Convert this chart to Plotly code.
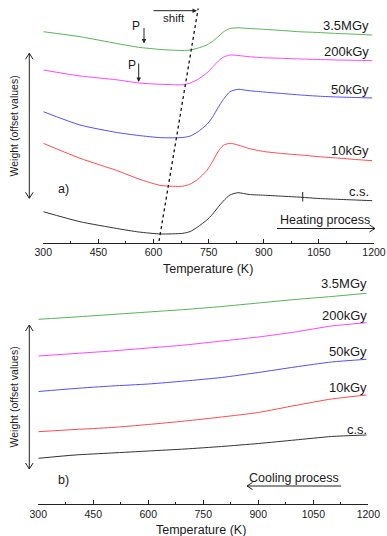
import plotly.graph_objects as go

W, H = 387, 536

# ---------------- data (arbitrary offset units) ----------------
temps_heat = [300, 400, 500, 560, 620, 680, 700, 720, 745, 760, 775, 790, 808, 830, 860, 900, 950, 1000, 1050, 1100, 1150, 1195]
heat_35MGy = [210.8, 205.8, 199.0, 195.2, 193.0, 192.0, 192.5, 194.3, 197.5, 201.0, 205.5, 210.5, 214.0, 214.7, 214.0, 213.2, 212.0, 210.7, 210.0, 209.0, 208.3, 207.5]
heat_200kGy = [172.5, 166.5, 162.7, 159.5, 158.2, 157.8, 159.5, 163.0, 169.5, 175.0, 181.0, 185.3, 187.5, 187.0, 185.8, 184.8, 184.2, 183.5, 183.0, 182.5, 182.2, 181.8]
heat_50kGy = [130.8, 117.5, 110.0, 107.0, 104.8, 105.0, 106.5, 110.5, 118.0, 125.0, 134.5, 143.0, 150.8, 153.2, 151.8, 150.5, 149.0, 147.5, 146.3, 145.5, 145.0, 144.5]
heat_10kGy = [99.2, 84.2, 72.0, 63.5, 57.0, 56.3, 58.5, 63.0, 72.0, 80.5, 90.5, 97.2, 99.2, 97.5, 94.0, 91.0, 89.0, 87.5, 85.8, 84.5, 83.0, 81.8]
heat_cs = [30.8, 20.8, 14.0, 10.5, 8.5, 9.2, 11.0, 15.5, 22.5, 28.0, 35.0, 41.5, 47.5, 49.8, 48.0, 47.3, 46.3, 45.3, 44.0, 43.2, 42.5, 41.8]

temps_cool = [300, 400, 500, 600, 700, 800, 900, 1000, 1100, 1195]
cool_35MGy = [184.7, 187.0, 189.5, 192.0, 194.5, 197.5, 201.0, 204.5, 207.5, 210.7]
cool_200kGy = [148.0, 150.5, 153.0, 156.0, 159.0, 163.0, 167.0, 172.0, 178.0, 181.3]
cool_50kGy = [112.5, 115.5, 118.0, 120.0, 123.0, 126.5, 131.5, 137.0, 142.0, 144.7]
cool_10kGy = [72.3, 74.5, 76.5, 79.5, 83.0, 87.0, 91.5, 98.5, 105.0, 109.0]
cool_cs = [45.7, 49.0, 51.0, 53.0, 55.0, 57.5, 60.5, 64.0, 67.5, 69.0]

# dashed "shift" guide line through the minima (temperature, offset value)
shift_T = [615, 721.5]
shift_v = [1.5, 234.0]

series_labels = ["3.5MGy", "200kGy", "50kGy", "10kGy", "c.s."]
series_colors = ["#55b455", "#ff44ff", "#4f4fff", "#ff4b4b", "#333333"]
tick_vals = [300, 450, 600, 750, 900, 1050, 1200]
# ----------------------------------------------------------------------------------------

def px(x):
    return x / W

def py(y):
    return 1 - y / H

FONT = "Liberation Sans, Arial, sans-serif"
TXT = "#1a1a1a"

fig = go.Figure()

heat = [heat_35MGy, heat_200kGy, heat_50kGy, heat_10kGy, heat_cs]
cool = [cool_35MGy, cool_200kGy, cool_50kGy, cool_10kGy, cool_cs]

for vals, col in zip(heat, series_colors):
    fig.add_trace(go.Scatter(x=temps_heat, y=vals, mode="lines", xaxis="x", yaxis="y",
                             line=dict(color=col, width=1, shape="spline", smoothing=0.6),
                             showlegend=False, hoverinfo="skip"))
for vals, col in zip(cool, series_colors):
    fig.add_trace(go.Scatter(x=temps_cool, y=vals, mode="lines", xaxis="x2", yaxis="y2",
                             line=dict(color=col, width=1, shape="spline", smoothing=0.6),
                             showlegend=False, hoverinfo="skip"))

fig.add_trace(go.Scatter(x=shift_T, y=shift_v, mode="lines", xaxis="x", yaxis="y",
                         line=dict(color="#111111", width=1.3, dash="3px,3px"),
                         showlegend=False, hoverinfo="skip"))

axis_common = dict(
    range=[300, 1200], showgrid=False, zeroline=False, showline=True, automargin=False,
    linecolor="#222222", linewidth=1, ticks="inside", ticklen=4, tickwidth=1,
    tickcolor="#222222", tickvals=tick_vals,
    tickfont=dict(family=FONT, size=10.5, color=TXT),
    minor=dict(ticks="inside", ticklen=2, tickwidth=1, tickcolor="#222222", dtick=75, tick0=300),
)

fig.update_layout(
    template="none",
    width=W, height=H, autosize=False,
    margin=dict(l=0, r=0, t=0, b=0, pad=0, autoexpand=False),
    paper_bgcolor="white", plot_bgcolor="white",
    xaxis=dict(domain=[px(43.3), px(374)], anchor="y", **axis_common),
    yaxis=dict(domain=[py(242.5), py(4)], range=[0, 238.5], visible=False, fixedrange=True, automargin=False),
    xaxis2=dict(domain=[px(38.3), px(368.3)], anchor="y2", **axis_common),
    yaxis2=dict(domain=[py(504), py(264)], range=[0, 240], visible=False, fixedrange=True, automargin=False),
    showlegend=False,
)

ann = []

def text(x, y, s, size=12.5, xanchor="center", angle=0):
    ann.append(dict(x=px(x), y=py(y), xref="paper", yref="paper", text=s, showarrow=False,
                    xanchor=xanchor, yanchor="middle", textangle=angle,
                    font=dict(family=FONT, size=size, color=TXT)))

# series labels
for lab, yy in zip(series_labels, [25, 52, 89.5, 150, 192]):
    text(371, yy, lab, size=13, xanchor="right")
for lab, yy in zip(series_labels, [283, 315, 351.5, 387, 429]):
    text(369, yy, lab, size=13, xanchor="right")

# axis titles
text(208, 269, "Temperature (K)", size=12.5)
text(201, 529.5, "Temperature (K)", size=12.5)
text(13.5, 126, "Weight (offset values)", size=10.5, angle=-90)
text(13.5, 397, "Weight (offset values)", size=10.5, angle=-90)

# panel tags and process labels
text(63.5, 188.5, "a)", size=12.5)
text(63.5, 479.5, "b)", size=12.5)
text(325, 220, "Heating process", size=12.5)
text(293.5, 477.5, "Cooling process", size=12.5)
text(173.5, 18.5, "shift", size=11.5)
text(136, 26.5, "P", size=12)
text(131.5, 65, "P", size=12)

# small filled-head arrows (shift, P markers)
def arrow(x_tip, y_tip, ax, ay):
    ann.append(dict(x=px(x_tip), y=py(y_tip), xref="paper", yref="paper", text="",
                    showarrow=True, arrowhead=2, arrowsize=0.9, arrowwidth=1,
                    arrowcolor="#222222", ax=ax, ay=ay, axref="pixel", ayref="pixel"))

arrow(197, 10.7, -45, 0)
arrow(144, 43.5, 0, -17)
arrow(138.7, 82, 0, -20)

fig.update_layout(annotations=ann)

# lines + open chevrons drawn as shapes
shapes = []

def seg(x0, y0, x1, y1, w=1):
    shapes.append(dict(type="line", xref="paper", yref="paper",
                       x0=px(x0), y0=py(y0), x1=px(x1), y1=py(y1),
                       line=dict(color="#222222", width=w)))

def chevron(pts):
    path = "M " + " L ".join(f"{px(a):.5f},{py(b):.5f}" for a, b in pts)
    shapes.append(dict(type="path", xref="paper", yref="paper", path=path,
                       line=dict(color="#222222", width=1)))

# weight arrows (double-headed)
for top, bot in [(53.3, 198.3), (325, 469)]:
    seg(29.3, top, 29.3, bot)
    chevron([(25.5, top + 6), (29.3, top), (33.1, top + 6)])
    chevron([(25.5, bot - 6), (29.3, bot), (33.1, bot - 6)])

# heating arrow (points right)
seg(277, 228.5, 375, 228.5)
chevron([(369.5, 225), (375, 228.5), (369.5, 232)])
# cooling arrow (points left)
seg(247, 486, 341, 486)
chevron([(252.5, 482.5), (247, 486), (252.5, 489.5)])

# small vertical mark on the c.s. heating curve
shapes.append(dict(type="line", xref="x", yref="y", x0=1006, x1=1006, y0=41.0, y1=50.5,
                   line=dict(color="#222222", width=1)))

fig.update_layout(shapes=shapes)

fig.write_html("out.html", config={"responsive": False, "displayModeBar": False},
               post_script="document.body.style.margin='0';document.body.style.overflow='hidden';")
